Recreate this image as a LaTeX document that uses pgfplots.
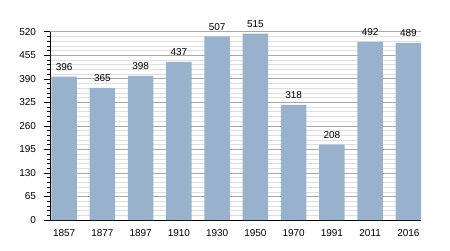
\documentclass[border=0pt]{standalone}
\usepackage{fontspec}
\setmainfont{Liberation Sans}
\usepackage{pgfplots}
\pgfplotsset{compat=1.18}
\definecolor{barc}{RGB}{152,178,205}
\definecolor{majg}{RGB}{168,168,168}
\definecolor{ming}{RGB}{222,222,222}
\begin{document}
\begin{tikzpicture}[x=1bp,y=1bp]
\path[use as bounding box] (0,0) rectangle (450,250);
\begin{axis}[
  at={(50bp,30bp)}, anchor=south west,
  scale only axis, width=371bp, height=188.3bp,
  xmin=-0.37, xmax=9.33, ymin=0, ymax=520,
  ytick={0,65,...,520}, minor y tick num=4,
  xtick={0,...,9},
  xticklabels={1857,1877,1897,1910,1930,1950,1970,1991,2011,2016},
  axis lines*=left, axis line style={-, black, line width=0.8pt},
  x tick style={draw=none},
  y tick style={black, line width=0.5pt},
  tick align=outside,
  major tick length=6bp, minor tick length=3bp,
  ymajorgrids, yminorgrids,
  major grid style={majg, line width=0.6pt},
  minor grid style={ming, line width=0.5pt},
  tick label style={font=\fontsize{10bp}{12bp}\selectfont},
  /pgf/number format/assume math mode=true,
  yticklabel style={xshift=-4.5bp},
  xticklabel style={yshift=0.5bp},
  clip=false,
  ybar, bar width=0.667,
  nodes near coords,
  every node near coord/.append style={font=\fontsize{10bp}{12bp}\selectfont, black, yshift=2.5bp},
]
\addplot[fill=barc, draw=none] coordinates {
(0,396) (1,365) (2,398) (3,437) (4,507) (5,515) (6,318) (7,208) (8,492) (9,489)};
\end{axis}
\end{tikzpicture}
\end{document}
